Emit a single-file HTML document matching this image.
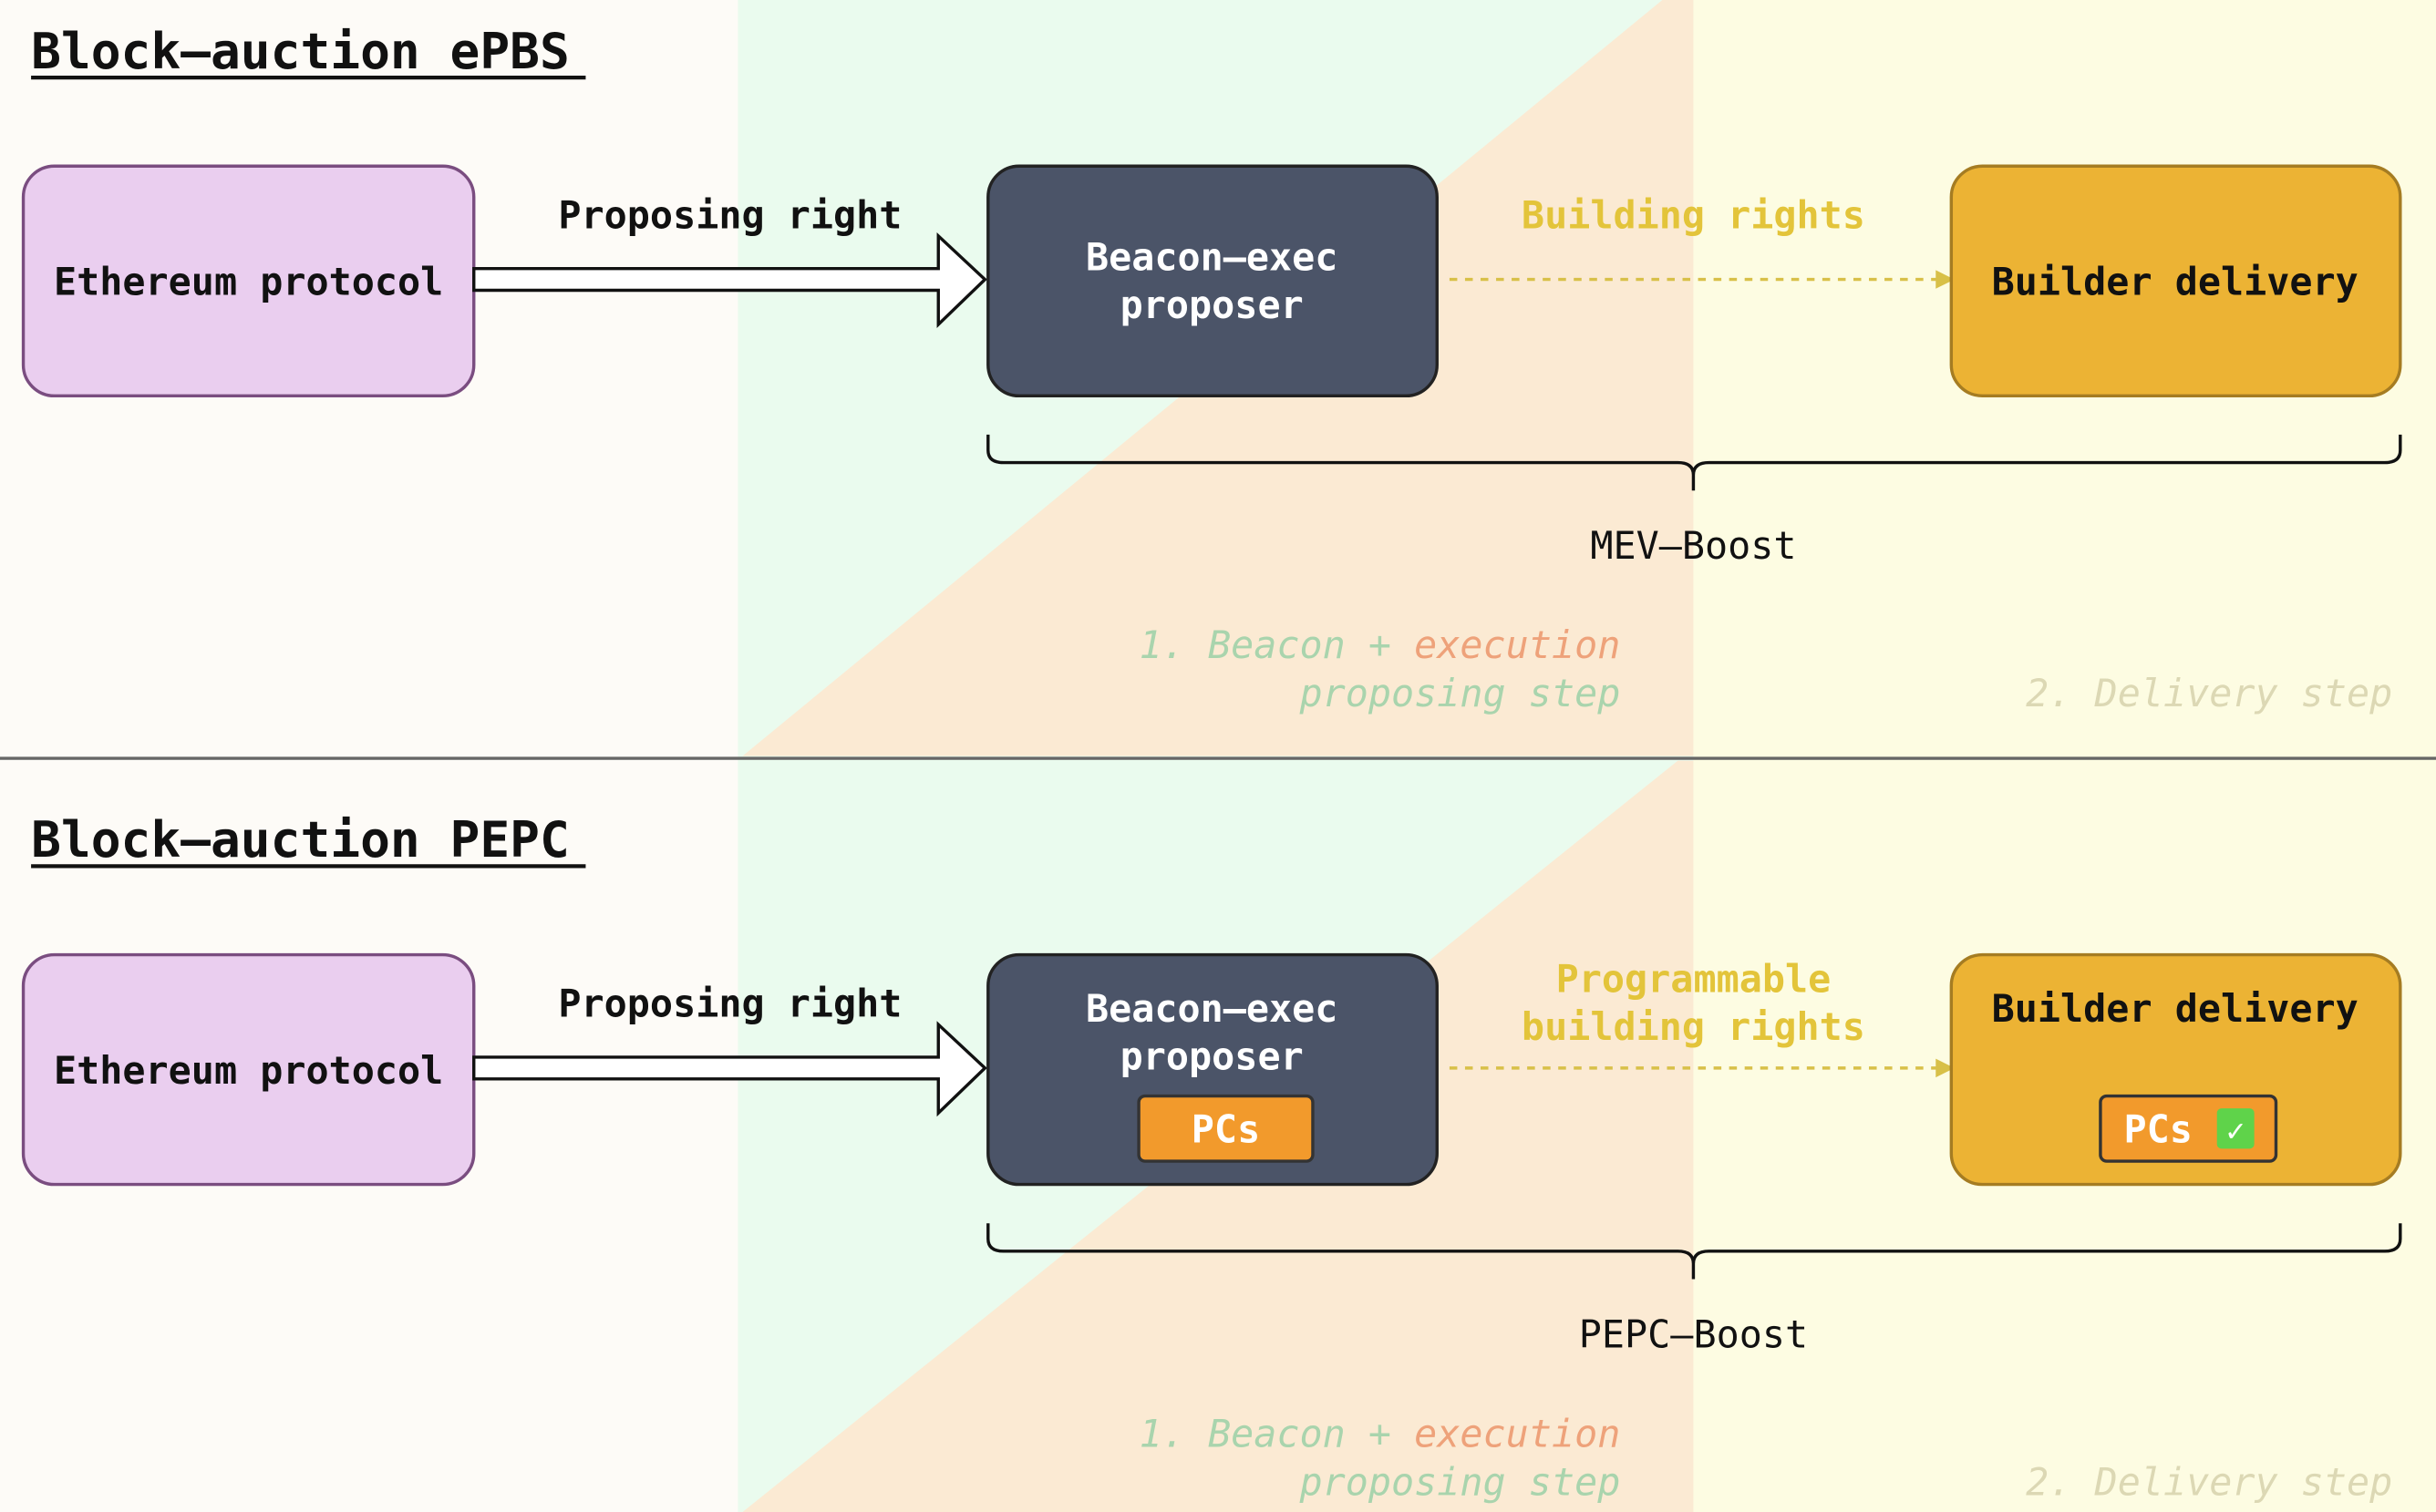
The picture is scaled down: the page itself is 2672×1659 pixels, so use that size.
<!DOCTYPE html>
<html><head><meta charset="utf-8"><style>
html,body{margin:0;padding:0;background:#fdfbf7;}
svg{display:block;}
text{font-family:"DejaVu Sans Mono","Liberation Mono",monospace;}
</style></head><body>
<svg width="2672" height="1659" viewBox="0 0 1568 974" preserveAspectRatio="none" xmlns="http://www.w3.org/2000/svg">
<defs>
<g id="none"></g>
</defs>
<!-- backgrounds -->
<rect x="0" y="0" width="1568" height="974" fill="#fdfbf7"/>
<rect x="475" y="0" width="615" height="974" fill="#eafbee"/>
<rect x="1090" y="0" width="478" height="974" fill="#fdfce2"/>
<polygon points="478,487 1070,0 1090,0 1090,487" fill="#fbead3"/>
<polygon points="478,974 1080,490 1090,490 1090,974" fill="#fbead3"/>
<line x1="0" y1="488.5" x2="1568" y2="488.5" stroke="#666" stroke-width="2"/>

<!-- ===== TOP ===== -->
<text x="20" y="44" font-size="32" font-weight="bold" fill="#111">Block–auction ePBS</text>
<line x1="20" y1="50" x2="377" y2="50" stroke="#111" stroke-width="2.5"/>

<rect x="15" y="107" width="290" height="148" rx="20" fill="#eaceef" stroke="#7a4d80" stroke-width="2"/>
<text x="160" y="190" font-size="24.5" font-weight="bold" text-anchor="middle" fill="#111">Ethereum protocol</text>

<polygon points="305,173 604,173 604,152 634,180 604,209 604,187 305,187" fill="#fff" stroke="#111" stroke-width="2"/>
<text x="470" y="147" font-size="24.5" font-weight="bold" text-anchor="middle" fill="#111">Proposing right</text>

<rect x="636" y="107" width="289" height="148" rx="20" fill="#4b5468" stroke="#222" stroke-width="2"/>
<text x="780" y="174" font-size="24.5" font-weight="bold" text-anchor="middle" fill="#fff">Beacon–exec</text>
<text x="780" y="205" font-size="24.5" font-weight="bold" text-anchor="middle" fill="#fff">proposer</text>

<line x1="933" y1="180" x2="1250" y2="180" stroke="#d8c048" stroke-width="2" stroke-dasharray="5,5"/>
<polygon points="1246,174 1258,180 1246,186" fill="#d8c048"/>
<text x="1090" y="147" font-size="24.5" font-weight="bold" text-anchor="middle" fill="#e3c43a">Building rights</text>

<rect x="1256" y="107" width="289" height="148" rx="20" fill="#ecb334" stroke="#a57c22" stroke-width="2"/>
<text x="1400" y="190" font-size="24.5" font-weight="bold" text-anchor="middle" fill="#111">Builder delivery</text>

<path d="M636,280 V290 Q636,298 646,298 H1080 Q1090,298 1090,306 V316 M1090,306 Q1090,298 1100,298 H1535 Q1545,298 1545,290 V280" fill="none" stroke="#111" stroke-width="2"/>
<text x="1090" y="360" font-size="24.5" text-anchor="middle" fill="#111">MEV–Boost</text>

<text x="1043" y="424" font-size="24.5" font-style="italic" text-anchor="end"><tspan fill="#a9d4ad">1. Beacon + </tspan><tspan fill="#eea27a">execution</tspan></text>
<text x="1043" y="455" font-size="24.5" font-style="italic" text-anchor="end" fill="#a9d4ad">proposing step</text>
<text x="1540" y="455" font-size="24.5" font-style="italic" text-anchor="end" fill="#dcd8b4">2. Delivery step</text>

<!-- ===== BOTTOM ===== -->
<text x="20" y="552" font-size="32" font-weight="bold" fill="#111">Block–auction PEPC</text>
<line x1="20" y1="558" x2="377" y2="558" stroke="#111" stroke-width="2.5"/>

<rect x="15" y="615" width="290" height="148" rx="20" fill="#eaceef" stroke="#7a4d80" stroke-width="2"/>
<text x="160" y="698" font-size="24.5" font-weight="bold" text-anchor="middle" fill="#111">Ethereum protocol</text>

<polygon points="305,681 604,681 604,660 634,688 604,717 604,695 305,695" fill="#fff" stroke="#111" stroke-width="2"/>
<text x="470" y="655" font-size="24.5" font-weight="bold" text-anchor="middle" fill="#111">Proposing right</text>

<rect x="636" y="615" width="289" height="148" rx="20" fill="#4b5468" stroke="#222" stroke-width="2"/>
<text x="780" y="658" font-size="24.5" font-weight="bold" text-anchor="middle" fill="#fff">Beacon–exec</text>
<text x="780" y="689" font-size="24.5" font-weight="bold" text-anchor="middle" fill="#fff">proposer</text>
<rect x="733" y="706" width="112" height="42" rx="4" fill="#f29a2c" stroke="#333" stroke-width="2"/>
<text x="789" y="736" font-size="24.5" font-weight="bold" text-anchor="middle" fill="#fff">PCs</text>

<line x1="933" y1="688" x2="1250" y2="688" stroke="#d8c048" stroke-width="2" stroke-dasharray="5,5"/>
<polygon points="1246,682 1258,688 1246,694" fill="#d8c048"/>
<text x="1090" y="639" font-size="24.5" font-weight="bold" text-anchor="middle" fill="#e3c43a">Programmable</text>
<text x="1090" y="670" font-size="24.5" font-weight="bold" text-anchor="middle" fill="#e3c43a">building rights</text>

<rect x="1256" y="615" width="289" height="148" rx="20" fill="#ecb334" stroke="#a57c22" stroke-width="2"/>
<text x="1400" y="658" font-size="24.5" font-weight="bold" text-anchor="middle" fill="#111">Builder delivery</text>
<rect x="1352" y="706" width="113" height="42" rx="4" fill="#f29a2c" stroke="#333" stroke-width="2"/>
<text x="1367" y="736" font-size="24.5" font-weight="bold" fill="#fff">PCs</text>
<rect x="1427" y="714" width="24" height="26" rx="3" fill="#5fd34a"/>
<text x="1439" y="735" font-size="20" font-weight="bold" text-anchor="middle" fill="#fff">✓</text>

<path d="M636,788 V798 Q636,806 646,806 H1080 Q1090,806 1090,814 V824 M1090,814 Q1090,806 1100,806 H1535 Q1545,806 1545,798 V788" fill="none" stroke="#111" stroke-width="2"/>
<text x="1090" y="868" font-size="24.5" text-anchor="middle" fill="#111">PEPC–Boost</text>

<text x="1043" y="932" font-size="24.5" font-style="italic" text-anchor="end"><tspan fill="#a9d4ad">1. Beacon + </tspan><tspan fill="#eea27a">execution</tspan></text>
<text x="1043" y="963" font-size="24.5" font-style="italic" text-anchor="end" fill="#a9d4ad">proposing step</text>
<text x="1540" y="963" font-size="24.5" font-style="italic" text-anchor="end" fill="#dcd8b4">2. Delivery step</text>
</svg>
</body></html>
